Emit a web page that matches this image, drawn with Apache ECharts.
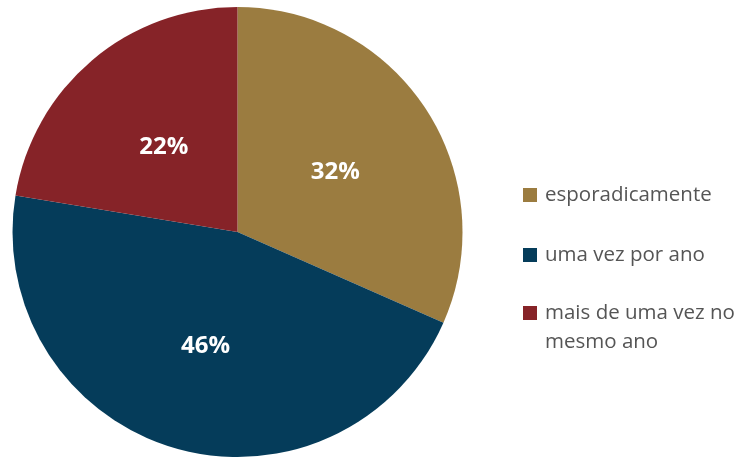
<!DOCTYPE html>
<html><head><meta charset="utf-8">
<script src="https://cdn.jsdelivr.net/npm/echarts@6/dist/echarts.min.js"></script>
<style>html,body{margin:0;padding:0;background:#fff}#c{width:739px;height:459px}</style>
</head><body><div id="c"></div>
<script>
const categories = ['esporadicamente', 'uma vez por ano', 'mais de uma vez no mesmo ano'];
const values = [31.6, 46.0, 22.4];
const colors = ['#9B7C40', '#053C5A', '#862328'];

const chart = echarts.init(document.getElementById('c'));
const legendText = {color:'#555555', fontFamily:'Open Sans', fontSize:20.5, lineHeight:29, padding:[0,0,0,3],
  rich:{a:{color:'#555555', fontFamily:'Open Sans', fontSize:20.5, lineHeight:29}, e:{fontSize:20.5, lineHeight:29}}};
function mkLegend(i, top, fmt){
  const l = {
    data:[categories[i]],
    left:523, top:top, orient:'vertical', itemWidth:14, itemHeight:14, itemGap:0,
    icon:'rect', padding:0, selectedMode:false,
    textStyle:legendText
  };
  if (fmt) l.formatter = fmt;
  return l;
}
chart.setOption({
  animation:false,
  color:colors,
  legend:[
    mkLegend(0, 180.5),
    mkLegend(1, 240.5),
    mkLegend(2, 269.5, function(){ return '{e| }\n{a|mais de uma vez no}\n{a|mesmo ano}'; })
  ],
  series:[{
    type:'pie', center:[237.5,232], radius:[0,225], startAngle:90, clockwise:true,
    data:categories.map((n,i)=>({name:n, value:values[i]})),
    itemStyle:{borderWidth:0},
    label:{show:true, position:'inside', offset:[1,3], formatter:p=>Math.round(p.percent)+'%', color:'#fff', fontFamily:'Open Sans', fontWeight:'bold', fontSize:24},
    labelLine:{show:false}, emphasis:{disabled:true}
  }]
});
</script></body></html>
